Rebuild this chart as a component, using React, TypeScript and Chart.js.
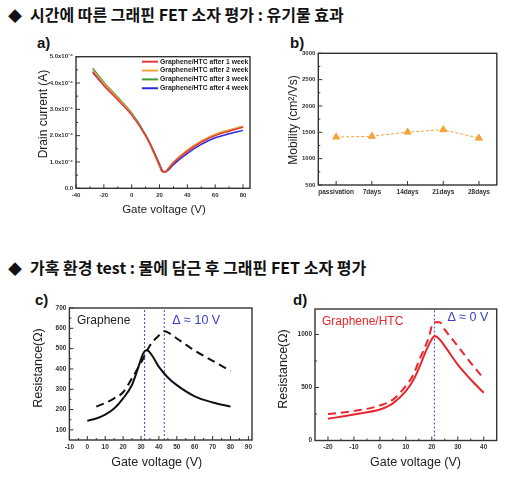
import React, { useEffect, useRef } from "react";
import { Chart, registerables } from "chart.js";

Chart.register(...registerables);

const SANS = '"Liberation Sans", Arial, sans-serif';
const KOREAN = '"Noto Sans CJK KR", "Noto Sans", sans-serif';

// ---------- headings ----------
const HEADING_1 = "시간에 따른 그래핀 FET 소자 평가 : 유기물 효과";
const HEADING_2 = "가혹 환경 test : 물에 담근 후 그래핀 FET 소자 평가";

// ---------- a) drain current (units of 1e-4 A) ----------
const A_GATE_V = [-28, -20, -10, 0, 10, 15, 20, 22, 24, 27, 30, 40, 50, 60, 70, 80];
const A_WEEK1 = [4.39, 3.9, 3.36, 2.78, 2.0, 1.48, 0.88, 0.64, 0.62, 0.78, 0.96, 1.4, 1.75, 2.0, 2.17, 2.32];
const A_WEEK2 = [4.5, 3.99, 3.42, 2.82, 1.98, 1.44, 0.82, 0.62, 0.64, 0.82, 1.0, 1.46, 1.8, 2.06, 2.22, 2.36];
const A_WEEK3 = [4.56, 4.03, 3.46, 2.86, 2.03, 1.5, 0.9, 0.66, 0.62, 0.78, 0.97, 1.43, 1.78, 2.04, 2.2, 2.35];
const A_WEEK4 = [4.44, 3.95, 3.41, 2.83, 2.02, 1.5, 0.92, 0.68, 0.61, 0.73, 0.9, 1.33, 1.67, 1.92, 2.07, 2.2];
const A_LABELS = [
  "Graphene/HTC after 1 week",
  "Graphene/HTC after 2 week",
  "Graphene/HTC after 3 week",
  "Graphene/HTC after 4 week",
];
const A_COLORS = ["#e8383d", "#f5a43c", "#3a9d3a", "#2b2bdc"];
const A_X_TICKS = [-40, -20, 0, 20, 40, 60, 80];
const A_Y_TICKS = [0, 1, 2, 3, 4, 5];

// ---------- b) mobility ----------
const B_CATEGORIES = ["passivation", "7days", "14days", "21days", "28days"];
const B_MOBILITY = [1410, 1425, 1505, 1550, 1390];
const B_Y_TICKS = [500, 1000, 1500, 2000, 2500, 3000];

// ---------- c) graphene resistance ----------
const C_BEFORE_V = [0, 5, 10, 15, 20, 25, 28, 30, 31, 32, 33, 34, 35, 37, 40, 45, 50, 60, 70, 80];
const C_BEFORE_R = [145, 156, 175, 205, 255, 322, 395, 448, 472, 486, 492, 490, 480, 455, 410, 358, 320, 265, 235, 215];
const C_AFTER_V = [5, 10, 15, 20, 25, 30, 35, 40, 43, 45, 50, 55, 60, 70, 80];
const C_AFTER_R = [215, 232, 255, 285, 355, 430, 515, 565, 585, 580, 550, 520, 490, 440, 390];
const C_DIRAC_V = [32, 43];
const C_X_TICKS = [-10, 0, 10, 20, 30, 40, 50, 60, 70, 80, 90];
const C_Y_TICKS = [100, 200, 300, 400, 500, 600, 700];

// ---------- d) graphene/HTC resistance ----------
const D_BEFORE_V = [-20, -10, 0, 3, 5, 10, 13, 15, 18, 20, 21, 23, 25, 30, 35, 40];
const D_BEFORE_R = [205, 245, 292, 322, 350, 465, 575, 680, 860, 955, 985, 955, 890, 715, 575, 450];
const D_AFTER_V = [-20, -10, 0, 5, 10, 13, 15, 17, 19, 20, 21, 23, 25, 30, 35, 40];
const D_AFTER_R = [250, 278, 330, 385, 515, 625, 750, 860, 985, 1080, 1115, 1115, 1045, 890, 733, 582];
const D_DIRAC_V = [21];
const D_X_TICKS = [-20, -10, 0, 10, 20, 30, 40];
const D_Y_TICKS = [0, 500, 1000];

// ---------- helpers ----------
const framePlugin = {
  id: "frame",
  afterDraw(chart: any, _args: any, opts: any) {
    const { ctx, chartArea: a } = chart;
    ctx.save();
    ctx.strokeStyle = "#333";
    ctx.lineWidth = 1;
    const tick = (p: number, horiz: boolean, len: number) => {
      ctx.beginPath();
      if (horiz) {
        ctx.moveTo(p, a.bottom);
        ctx.lineTo(p, a.bottom - len);
      } else {
        ctx.moveTo(a.left, p);
        ctx.lineTo(a.left + len, p);
      }
      ctx.stroke();
    };
    const run = (scale: any, horiz: boolean, minor: boolean) => {
      const vals = scale.ticks.map((t: any) => t.value);
      vals.forEach((v: number) => tick(scale.getPixelForValue(v), horiz, 4));
      if (minor)
        for (let i = 0; i + 1 < vals.length; i++)
          tick(scale.getPixelForValue((vals[i] + vals[i + 1]) / 2), horiz, 2);
    };
    run(chart.scales.x, true, !(opts && opts.noMinorX));
    run(chart.scales.y, false, true);
    ctx.lineWidth = 1.4;
    ctx.strokeRect(a.left, a.top, a.right - a.left, a.bottom - a.top);
    ctx.restore();
  },
};

function txt(
  ctx: CanvasRenderingContext2D,
  s: string,
  x: number,
  y: number,
  size: number,
  color: string,
  o: { bold?: boolean; align?: CanvasTextAlign; rotate?: boolean } = {}
) {
  ctx.save();
  ctx.font = `${o.bold ? "bold " : ""}${size}px ${SANS}`;
  ctx.fillStyle = color;
  ctx.textAlign = o.align || "center";
  ctx.textBaseline = "middle";
  ctx.translate(x, y);
  if (o.rotate) ctx.rotate(-Math.PI / 2);
  ctx.fillText(s, 0, 0);
  ctx.restore();
}

function axis(
  kind: "linear" | "category",
  ticks: number[] | null,
  fontSize: number,
  fit: number,
  isX: boolean,
  extra: any = {},
  fmt?: (v: any) => string
) {
  const cfg: any = {
    type: kind,
    grid: { display: false, drawTicks: false, tickLength: 0 },
    border: { display: false },
    ticks: {
      font: { family: SANS, size: fontSize, weight: "bold" },
      color: "#333",
      padding: 3,
      autoSkip: false,
      maxRotation: 0,
      minRotation: 0,
    },
    afterFit: (s: any) => {
      if (isX) s.height = fit;
      else s.width = fit;
    },
    ...extra,
  };
  if (ticks) {
    cfg.afterBuildTicks = (s: any) => {
      s.ticks = ticks.map((v) => ({ value: v }));
    };
    cfg.ticks.callback = fmt || ((v: any) => String(v));
  }
  return cfg;
}

const curve = (xs: number[], ys: number[], color: string, width: number, dash: number[] = []) => ({
  data: xs.map((x, i) => ({ x, y: ys[i] })),
  borderColor: color,
  backgroundColor: color,
  borderWidth: width,
  borderDash: dash,
  pointRadius: 0,
  tension: 0.4,
  cubicInterpolationMode: "monotone",
  fill: false,
});

const vline = (x: number, y0: number, y1: number) => ({
  data: [
    { x, y: y0 },
    { x, y: y1 },
  ],
  borderColor: "#4646d8",
  borderWidth: 1,
  borderDash: [2, 2],
  pointRadius: 0,
  tension: 0,
  fill: false,
});

const baseOptions = (scales: any, pad: { top: number; right: number }) => ({
  responsive: false,
  maintainAspectRatio: false,
  animation: false,
  devicePixelRatio: 1,
  layout: { padding: { left: 0, bottom: 0, top: pad.top, right: pad.right } },
  plugins: { legend: { display: false }, tooltip: { enabled: false } },
  scales,
});

// ---------- chart configs ----------
const A_Y_MIN = 0,
  A_Y_MAX = 5,
  A_X_MIN = -40,
  A_X_MAX = 85;

function buildA() {
  const series = [A_WEEK1, A_WEEK2, A_WEEK3, A_WEEK4];
  return {
    type: "line",
    data: {
      datasets: series.map((s, i) => ({ ...curve(A_GATE_V, s, A_COLORS[i], 1.5), label: A_LABELS[i] })),
    },
    options: baseOptions(
      {
        x: axis("linear", A_X_TICKS, 6, 28.7, true, { min: A_X_MIN, max: A_X_MAX }),
        y: axis("linear", A_Y_TICKS, 6, 39, false, { min: A_Y_MIN, max: A_Y_MAX }, (v: number) =>
          v === 0 ? "0.0" : `${v.toFixed(1)}x10⁻⁴`
        ),
      },
      { top: 6.7, right: 12 }
    ),
    plugins: [
      framePlugin,
      {
        id: "aText",
        afterDraw(chart: any) {
          const { ctx, chartArea: a } = chart;
          txt(ctx, "Drain current (A)", 7, 64, 12, "#222", { rotate: true });
          txt(ctx, "Gate voltage (V)", 127, 160, 11.5, "#222");
          A_LABELS.forEach((l, i) => {
            const y = a.top + 5 + i * 8.85;
            ctx.save();
            ctx.strokeStyle = A_COLORS[i];
            ctx.lineWidth = 2;
            ctx.beginPath();
            ctx.moveTo(a.left + 66, y);
            ctx.lineTo(a.left + 82, y);
            ctx.stroke();
            ctx.restore();
            txt(ctx, l, a.left + 84, y, 6.8, "#222", { bold: true, align: "left" });
          });
        },
      },
    ],
  };
}

function buildB() {
  return {
    type: "line",
    data: {
      labels: B_CATEGORIES,
      datasets: [
        {
          data: B_MOBILITY,
          borderColor: "#f2a33a",
          backgroundColor: "#f2a33a",
          borderWidth: 1,
          borderDash: [3, 2],
          pointStyle: "triangle",
          pointRadius: 4,
          pointBorderWidth: 1,
          tension: 0,
          fill: false,
        },
      ],
    },
    options: {
      ...baseOptions(
        {
          x: axis("category", null, 6.5, 15, true, { offset: true }),
          y: axis("linear", B_Y_TICKS, 6, 32.3, false, { min: 500, max: 3000 }),
        },
        { top: 7.3, right: 6.2 }
      ),
      plugins: { legend: { display: false }, tooltip: { enabled: false }, frame: { noMinorX: true } },
    },
    plugins: [
      framePlugin,
      {
        id: "bText",
        afterDraw(chart: any) {
          txt(chart.ctx, "Mobility (cm²/Vs)", 7.3, 74, 12, "#222", { rotate: true });
        },
      },
    ],
  };
}

const C_Y_MIN = 50,
  C_Y_MAX = 700;

function buildC() {
  return {
    type: "line",
    data: {
      datasets: [
        curve(C_BEFORE_V, C_BEFORE_R, "#111", 2),
        curve(C_AFTER_V, C_AFTER_R, "#111", 2, [8, 5]),
        ...C_DIRAC_V.map((v) => vline(v, C_Y_MIN, C_Y_MAX)),
      ],
    },
    options: baseOptions(
      {
        x: axis("linear", C_X_TICKS, 6.5, 31, true, { min: -10, max: 92 }),
        y: axis("linear", C_Y_TICKS, 6.5, 38.4, false, { min: C_Y_MIN, max: C_Y_MAX }),
      },
      { top: 8, right: 5 }
    ),
    plugins: [
      framePlugin,
      {
        id: "cText",
        afterDraw(chart: any) {
          const { ctx } = chart;
          txt(ctx, "Resistance(Ω)", 8, 68, 12.5, "#222", { rotate: true });
          txt(ctx, "Gate voltage (V)", 125.7, 163, 12.5, "#222");
          txt(ctx, "Graphene", 46, 21, 12, "#222", { align: "left" });
          const px = chart.scales.x.getPixelForValue(C_DIRAC_V[1]);
          txt(ctx, "Δ ≈ 10 V", px + 8, 21, 12.5, "#3a3ad0", { align: "left" });
        },
      },
    ],
  };
}

const D_Y_MIN = 0,
  D_Y_MAX = 1240;

function buildD() {
  return {
    type: "line",
    data: {
      datasets: [
        curve(D_BEFORE_V, D_BEFORE_R, "#e8262b", 2),
        curve(D_AFTER_V, D_AFTER_R, "#e8262b", 2, [8, 5]),
        ...D_DIRAC_V.map((v) => vline(v, D_Y_MIN, D_Y_MAX)),
      ],
    },
    options: baseOptions(
      {
        x: axis("linear", D_X_TICKS, 6.5, 29.5, true, { min: -25, max: 45 }),
        y: axis("linear", D_Y_TICKS, 6.5, 39, false, { min: D_Y_MIN, max: D_Y_MAX }),
      },
      { top: 9, right: 6.3 }
    ),
    plugins: [
      framePlugin,
      {
        id: "dText",
        afterDraw(chart: any) {
          const { ctx } = chart;
          txt(ctx, "Resistance(Ω)", 8, 69, 12.5, "#222", { rotate: true });
          txt(ctx, "Gate voltage (V)", 139.5, 162.7, 12.5, "#222");
          txt(ctx, "Graphene/HTC", 46, 22, 12, "#e8262b", { align: "left" });
          const px = chart.scales.x.getPixelForValue(D_DIRAC_V[0]);
          txt(ctx, "Δ ≈ 0 V", px + 13, 18, 12.5, "#3a3ad0", { align: "left" });
        },
      },
    ],
  };
}

// ---------- components ----------
function ChartBox({ box, build }: { box: [number, number, number, number]; build: () => any }) {
  const ref = useRef<HTMLCanvasElement>(null);
  useEffect(() => {
    const chart = new Chart(ref.current as HTMLCanvasElement, build());
    return () => chart.destroy();
  }, []);
  const [l, t, w, h] = box;
  return (
    <canvas
      ref={ref}
      width={w}
      height={h}
      style={{ position: "absolute", left: l, top: t, width: w, height: h }}
    />
  );
}

function Heading({ top, text }: { top: number; text: string }) {
  return (
    <div
      style={{
        position: "absolute",
        left: 8,
        top,
        fontFamily: KOREAN,
        fontWeight: 700,
        fontSize: 16,
        lineHeight: "16px",
        whiteSpace: "nowrap",
        color: "#111",
      }}
    >
      <span style={{ display: "inline-block", width: 22, fontSize: 14 }}>◆</span>
      {text}
    </div>
  );
}

function PanelLabel({ left, top, text }: { left: number; top: number; text: string }) {
  return (
    <div
      style={{
        position: "absolute",
        left,
        top,
        fontFamily: SANS,
        fontWeight: 700,
        fontSize: 15,
        lineHeight: "15px",
        color: "#111",
      }}
    >
      {text}
    </div>
  );
}

export default function App() {
  return (
    <div
      style={{
        position: "absolute",
        left: 0,
        top: 0,
        width: 510,
        height: 477,
        background: "#fff",
        overflow: "hidden",
      }}
    >
      <Heading top={6} text={HEADING_1} />
      <Heading top={258.5} text={HEADING_2} />
      <PanelLabel left={37} top={35} text="a)" />
      <PanelLabel left={290} top={35} text="b)" />
      <PanelLabel left={35} top={292} text="c)" />
      <PanelLabel left={293} top={292} text="d)" />
      <ChartBox box={[37, 50, 225, 167]} build={buildA} />
      <ChartBox box={[286, 46, 217, 154]} build={buildB} />
      <ChartBox box={[31, 300, 226, 171]} build={buildC} />
      <ChartBox box={[276, 300, 227, 170]} build={buildD} />
    </div>
  );
}
